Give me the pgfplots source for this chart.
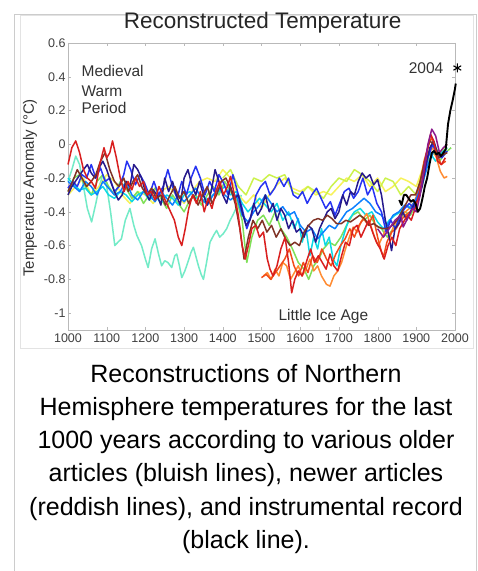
\documentclass[border=0pt]{standalone}
\usepackage{fontspec}
\setmainfont{Liberation Sans}
\usepackage{pgfplots}
\pgfplotsset{compat=1.18}
\definecolor{cNavy}{rgb}{0.15,0.1,0.55}
\definecolor{cBlue}{rgb}{0.15,0.2,0.95}
\definecolor{cMed}{rgb}{0.05,0.5,1}
\definecolor{cCyan}{rgb}{0.05,0.85,0.9}
\definecolor{cTurq}{rgb}{0.45,0.92,0.78}
\definecolor{cGreen}{rgb}{0.5,0.88,0.35}
\definecolor{cYellow}{rgb}{0.97,0.95,0.35}
\definecolor{cLime}{rgb}{0.8,0.95,0.3}
\definecolor{cOrange}{rgb}{1,0.55,0.2}
\definecolor{cRedOr}{rgb}{0.95,0.3,0.1}
\definecolor{cRed}{rgb}{0.85,0.12,0.12}
\definecolor{cBrown}{rgb}{0.5,0.2,0.15}
\definecolor{cPurple}{rgb}{0.55,0.1,0.55}
\begin{document}
\begin{tikzpicture}
\useasboundingbox (0pt,0pt) rectangle (478pt,571pt);
\fill[white] (0pt,0pt) rectangle (478pt,571pt);
\draw[gray!40,line width=0.8pt] (14pt,0pt)--(14pt,557pt)--(476pt,557pt)--(476pt,0pt);
\draw[gray!22,line width=0.7pt] (20pt,223pt) rectangle (473pt,556pt);
\begin{axis}[
  at={(68pt,241pt)}, anchor=south west,
  width=387pt, height=287pt, scale only axis,
  xmin=1000, xmax=2000, ymin=-1.1, ymax=0.6,
  xtick={1000,1100,...,2000},
  ytick={-1,-0.8,-0.6,-0.4,-0.2,0,0.2,0.4,0.6},
  /pgf/number format/1000 sep={},
  /pgf/number format/assume math mode=true,
  tick align=inside, major tick length=3pt,
  axis line style={gray!55}, tick style={gray!55},
  ticklabel style={font=\fontsize{12.5}{14}\selectfont, text=black!75},
  yticklabel style={xshift=1pt},
  title={Reconstructed Temperature},
  title style={at={(axis description cs:0.503,1)}, anchor=base, yshift=8pt, font=\fontsize{22.5}{26}\selectfont, text=black!85},
  ylabel={Temperature Anomaly (°C)},
  ylabel style={at={(axis description cs:-0.098,0.495)}, anchor=center, font=\fontsize{15}{18}\selectfont, text=black!80},
  clip=false,
  every axis plot/.append style={line width=1.5pt, line join=round, mark=none},
]
% turquoise
\addplot[cTurq] coordinates {(1000,-0.22)(1010,-0.15)(1020,-0.07)(1030,-0.12)(1040,-0.25)(1050,-0.38)(1061,-0.46)(1072,-0.35)(1082,-0.24)(1090,-0.18)(1100,-0.25)(1110,-0.4)(1121,-0.6)(1129,-0.58)(1138,-0.56)(1148,-0.45)(1160,-0.38)(1170,-0.48)(1178,-0.54)(1190,-0.6)(1200,-0.68)(1207,-0.73)(1216,-0.62)(1225,-0.56)(1234,-0.65)(1242,-0.72)(1250,-0.69)(1258,-0.7)(1268,-0.73)(1276,-0.66)(1281,-0.65)(1288,-0.72)(1294,-0.79)(1302,-0.75)(1311,-0.69)(1318,-0.64)(1324,-0.61)(1330,-0.66)(1337,-0.72)(1344,-0.77)(1350,-0.8)(1358,-0.7)(1367,-0.58)(1376,-0.54)(1384,-0.51)(1392,-0.55)(1401,-0.53)(1410,-0.5)(1419,-0.45)(1426,-0.42)(1432,-0.39)(1440,-0.35)(1448,-0.3)};
% yellow
\addplot[cYellow] coordinates {(1000,-0.3)(1020,-0.25)(1040,-0.2)(1060,-0.3)(1080,-0.25)(1100,-0.18)(1120,-0.22)(1140,-0.3)(1160,-0.35)(1180,-0.28)(1200,-0.3)(1220,-0.35)(1240,-0.28)(1260,-0.25)(1280,-0.3)(1300,-0.35)(1320,-0.28)(1340,-0.22)(1360,-0.2)(1380,-0.22)(1400,-0.15)(1420,-0.2)(1440,-0.3)(1460,-0.35)(1480,-0.3)(1500,-0.38)(1520,-0.3)(1540,-0.24)(1560,-0.2)(1580,-0.26)(1600,-0.28)(1620,-0.25)(1640,-0.3)(1660,-0.28)(1680,-0.3)(1700,-0.25)(1720,-0.2)(1740,-0.22)(1760,-0.18)(1780,-0.25)(1800,-0.2)(1820,-0.28)(1840,-0.25)(1860,-0.2)(1880,-0.22)(1900,-0.25)(1920,-0.12)(1940,-0.02)(1960,-0.05)(1980,-0.02)};
% lime
\addplot[cLime] coordinates {(1400,-0.2)(1420,-0.15)(1440,-0.25)(1460,-0.3)(1480,-0.2)(1500,-0.22)(1520,-0.18)(1540,-0.2)(1560,-0.18)(1580,-0.28)(1600,-0.3)(1620,-0.25)(1640,-0.28)(1660,-0.32)(1680,-0.25)(1700,-0.2)(1720,-0.22)(1740,-0.15)(1760,-0.18)(1780,-0.22)(1800,-0.28)(1820,-0.2)(1840,-0.22)(1860,-0.3)(1880,-0.25)(1900,-0.3)(1920,-0.12)(1940,0.0)(1960,-0.05)(1980,0.0)};
% green
\addplot[cGreen] coordinates {(1000,-0.28)(1015,-0.2)(1030,-0.18)(1045,-0.25)(1060,-0.3)(1075,-0.22)(1090,-0.18)(1105,-0.25)(1120,-0.3)(1135,-0.22)(1150,-0.26)(1165,-0.32)(1180,-0.28)(1195,-0.35)(1210,-0.3)(1225,-0.26)(1240,-0.32)(1255,-0.38)(1270,-0.3)(1285,-0.35)(1300,-0.4)(1315,-0.33)(1330,-0.3)(1345,-0.36)(1360,-0.3)(1375,-0.25)(1390,-0.3)(1405,-0.22)(1420,-0.28)(1435,-0.32)(1450,-0.45)(1462,-0.7)(1475,-0.55)(1490,-0.45)(1505,-0.42)(1520,-0.48)(1535,-0.4)(1550,-0.5)(1565,-0.55)(1580,-0.62)(1595,-0.7)(1610,-0.74)(1622,-0.8)(1635,-0.72)(1648,-0.68)(1660,-0.62)(1675,-0.58)(1690,-0.6)(1705,-0.55)(1720,-0.48)(1735,-0.42)(1750,-0.4)(1765,-0.45)(1780,-0.42)(1795,-0.48)(1810,-0.5)(1825,-0.55)(1840,-0.5)(1855,-0.46)(1870,-0.4)(1885,-0.42)(1900,-0.35)(1915,-0.25)(1930,-0.1)(1945,-0.05)(1960,-0.1)(1975,-0.05)(1990,-0.02)};
% cyan
\addplot[cCyan] coordinates {(1000,-0.2)(1015,-0.24)(1030,-0.27)(1045,-0.26)(1060,-0.3)(1075,-0.28)(1090,-0.25)(1105,-0.3)(1120,-0.32)(1135,-0.28)(1150,-0.3)(1165,-0.34)(1180,-0.3)(1195,-0.28)(1210,-0.33)(1225,-0.3)(1240,-0.35)(1255,-0.3)(1270,-0.32)(1285,-0.36)(1300,-0.3)(1315,-0.28)(1330,-0.32)(1345,-0.3)(1360,-0.33)(1375,-0.3)(1390,-0.28)(1405,-0.25)(1420,-0.3)(1435,-0.28)(1450,-0.35)(1465,-0.4)(1480,-0.36)(1495,-0.32)(1510,-0.36)(1525,-0.4)(1540,-0.35)(1555,-0.45)(1570,-0.4)(1585,-0.5)(1595,-0.44)(1605,-0.58)(1615,-0.5)(1625,-0.66)(1635,-0.55)(1645,-0.62)(1655,-0.5)(1665,-0.6)(1675,-0.55)(1685,-0.68)(1695,-0.72)(1705,-0.6)(1715,-0.52)(1725,-0.45)(1740,-0.4)(1755,-0.38)(1770,-0.42)(1785,-0.4)(1800,-0.46)(1815,-0.5)(1830,-0.45)(1845,-0.42)(1860,-0.4)(1875,-0.36)(1890,-0.38)(1905,-0.3)(1920,-0.15)(1935,-0.05)(1950,-0.1)(1965,-0.05)(1980,-0.02)};
% orange
\addplot[cOrange] coordinates {(1505,-0.78)(1515,-0.76)(1525,-0.8)(1535,-0.74)(1545,-0.78)(1555,-0.7)(1565,-0.72)(1575,-0.8)(1585,-0.76)(1595,-0.72)(1605,-0.78)(1615,-0.74)(1625,-0.68)(1635,-0.75)(1645,-0.72)(1655,-0.78)(1668,-0.83)(1677,-0.84)(1687,-0.78)(1697,-0.75)(1707,-0.7)(1717,-0.62)(1727,-0.55)(1737,-0.49)(1747,-0.52)(1757,-0.46)(1772,-0.41)(1782,-0.48)(1792,-0.55)(1802,-0.6)(1812,-0.55)(1822,-0.5)(1832,-0.55)(1842,-0.48)(1852,-0.45)(1862,-0.42)(1872,-0.4)(1882,-0.38)(1892,-0.35)(1902,-0.3)(1912,-0.2)(1922,-0.1)(1932,-0.05)(1942,-0.02)(1952,-0.08)(1962,-0.16)(1972,-0.2)(1980,-0.19)};
% red-orange
\addplot[cRedOr] coordinates {(1500,-0.79)(1512,-0.77)(1524,-0.8)(1536,-0.76)(1548,-0.72)(1560,-0.68)(1572,-0.62)(1584,-0.72)(1596,-0.78)(1608,-0.7)(1620,-0.76)(1632,-0.66)(1644,-0.7)(1656,-0.62)(1668,-0.68)(1680,-0.72)(1692,-0.65)(1704,-0.6)(1716,-0.56)(1728,-0.5)(1740,-0.55)(1752,-0.48)(1764,-0.44)(1776,-0.48)(1788,-0.42)(1800,-0.55)(1808,-0.62)(1815,-0.67)(1824,-0.58)(1836,-0.52)(1848,-0.5)(1860,-0.45)(1872,-0.42)(1884,-0.4)(1896,-0.36)(1908,-0.25)(1920,-0.1)(1932,0.0)(1940,0.04)(1952,-0.05)(1964,-0.12)(1976,-0.1)};
% medium blue
\addplot[cMed] coordinates {(1000,-0.22)(1015,-0.25)(1030,-0.28)(1045,-0.22)(1060,-0.25)(1075,-0.3)(1090,-0.22)(1105,-0.26)(1120,-0.3)(1135,-0.28)(1150,-0.22)(1165,-0.3)(1180,-0.33)(1195,-0.28)(1210,-0.3)(1225,-0.34)(1240,-0.28)(1255,-0.32)(1270,-0.36)(1285,-0.3)(1300,-0.34)(1315,-0.3)(1330,-0.26)(1345,-0.32)(1360,-0.36)(1375,-0.3)(1390,-0.26)(1405,-0.3)(1420,-0.33)(1435,-0.3)(1450,-0.42)(1465,-0.46)(1480,-0.4)(1495,-0.36)(1510,-0.3)(1525,-0.35)(1540,-0.4)(1555,-0.37)(1570,-0.42)(1585,-0.4)(1600,-0.48)(1615,-0.52)(1630,-0.5)(1645,-0.56)(1660,-0.52)(1675,-0.48)(1690,-0.5)(1705,-0.45)(1720,-0.4)(1735,-0.38)(1750,-0.35)(1765,-0.32)(1780,-0.35)(1795,-0.4)(1810,-0.42)(1825,-0.48)(1840,-0.42)(1855,-0.4)(1870,-0.36)(1885,-0.38)(1900,-0.32)(1915,-0.24)(1930,-0.12)(1945,-0.04)(1960,-0.08)(1975,-0.04)};
% blue
\addplot[cBlue] coordinates {(1000,-0.26)(1012,-0.22)(1024,-0.25)(1036,-0.18)(1048,-0.2)(1060,-0.12)(1072,-0.2)(1084,-0.14)(1096,-0.22)(1108,-0.2)(1120,-0.28)(1132,-0.25)(1144,-0.18)(1152,-0.1)(1162,-0.15)(1174,-0.24)(1186,-0.18)(1198,-0.23)(1210,-0.3)(1222,-0.22)(1234,-0.3)(1246,-0.25)(1258,-0.15)(1270,-0.25)(1282,-0.32)(1294,-0.22)(1306,-0.3)(1318,-0.2)(1330,-0.13)(1342,-0.2)(1354,-0.3)(1366,-0.22)(1378,-0.28)(1390,-0.18)(1402,-0.23)(1414,-0.3)(1426,-0.18)(1438,-0.28)(1450,-0.38)(1462,-0.5)(1474,-0.42)(1486,-0.3)(1498,-0.25)(1510,-0.22)(1522,-0.3)(1534,-0.26)(1546,-0.2)(1558,-0.25)(1570,-0.2)(1582,-0.3)(1594,-0.32)(1606,-0.28)(1618,-0.35)(1630,-0.3)(1642,-0.26)(1654,-0.32)(1666,-0.38)(1678,-0.34)(1690,-0.42)(1702,-0.35)(1714,-0.28)(1726,-0.26)(1738,-0.32)(1750,-0.28)(1762,-0.2)(1774,-0.3)(1786,-0.25)(1798,-0.35)(1810,-0.4)(1822,-0.52)(1834,-0.45)(1846,-0.5)(1858,-0.42)(1870,-0.38)(1882,-0.35)(1894,-0.38)(1906,-0.3)(1918,-0.2)(1930,-0.08)(1942,0.0)(1954,-0.06)(1966,-0.08)(1980,-0.04)};
% navy
\addplot[cNavy] coordinates {(1000,-0.3)(1010,-0.25)(1025,-0.2)(1040,-0.15)(1050,-0.12)(1060,-0.17)(1070,-0.2)(1080,-0.14)(1090,-0.1)(1100,-0.15)(1110,-0.22)(1120,-0.28)(1130,-0.33)(1140,-0.3)(1150,-0.22)(1160,-0.25)(1170,-0.12)(1180,-0.15)(1190,-0.2)(1200,-0.28)(1210,-0.33)(1220,-0.27)(1230,-0.3)(1240,-0.36)(1250,-0.2)(1260,-0.28)(1270,-0.22)(1280,-0.3)(1290,-0.36)(1300,-0.2)(1310,-0.15)(1320,-0.24)(1330,-0.3)(1340,-0.22)(1350,-0.3)(1360,-0.36)(1370,-0.28)(1380,-0.15)(1390,-0.22)(1400,-0.3)(1410,-0.35)(1420,-0.25)(1430,-0.32)(1440,-0.3)(1450,-0.4)(1460,-0.48)(1470,-0.45)(1480,-0.35)(1490,-0.42)(1500,-0.38)(1510,-0.3)(1520,-0.4)(1530,-0.35)(1540,-0.45)(1550,-0.38)(1560,-0.42)(1570,-0.5)(1580,-0.45)(1590,-0.52)(1600,-0.5)(1610,-0.55)(1620,-0.48)(1630,-0.5)(1640,-0.58)(1650,-0.5)(1660,-0.45)(1670,-0.4)(1680,-0.38)(1690,-0.44)(1700,-0.4)(1710,-0.3)(1720,-0.36)(1730,-0.28)(1740,-0.3)(1750,-0.22)(1760,-0.17)(1770,-0.2)(1780,-0.18)(1790,-0.24)(1800,-0.21)(1810,-0.3)(1820,-0.45)(1830,-0.55)(1836,-0.63)(1845,-0.5)(1855,-0.47)(1865,-0.4)(1875,-0.45)(1885,-0.4)(1895,-0.35)(1905,-0.33)(1915,-0.25)(1925,-0.12)(1935,-0.02)(1945,0.02)(1955,-0.05)(1965,-0.07)(1975,-0.05)};
% brown
\addplot[cBrown] coordinates {(1000,-0.28)(1012,-0.22)(1024,-0.15)(1036,-0.2)(1048,-0.25)(1060,-0.22)(1072,-0.18)(1084,-0.1)(1096,-0.05)(1108,-0.15)(1120,-0.22)(1132,-0.25)(1144,-0.2)(1156,-0.28)(1168,-0.22)(1180,-0.18)(1192,-0.26)(1204,-0.3)(1216,-0.26)(1228,-0.32)(1240,-0.3)(1252,-0.36)(1264,-0.3)(1276,-0.25)(1288,-0.32)(1300,-0.28)(1312,-0.35)(1324,-0.3)(1336,-0.36)(1348,-0.3)(1360,-0.25)(1372,-0.35)(1384,-0.3)(1396,-0.22)(1408,-0.2)(1420,-0.26)(1432,-0.35)(1444,-0.5)(1455,-0.68)(1466,-0.55)(1478,-0.45)(1490,-0.5)(1502,-0.45)(1514,-0.52)(1526,-0.48)(1538,-0.55)(1550,-0.5)(1562,-0.56)(1574,-0.6)(1586,-0.58)(1598,-0.6)(1610,-0.52)(1622,-0.48)(1634,-0.45)(1646,-0.44)(1658,-0.45)(1670,-0.42)(1682,-0.44)(1694,-0.47)(1706,-0.47)(1718,-0.45)(1730,-0.46)(1742,-0.44)(1754,-0.42)(1766,-0.44)(1778,-0.48)(1790,-0.47)(1802,-0.49)(1814,-0.5)(1826,-0.5)(1838,-0.48)(1850,-0.45)(1862,-0.4)(1874,-0.35)(1886,-0.3)(1898,-0.3)(1910,-0.22)(1922,-0.1)(1934,0.02)(1946,0.0)(1958,-0.08)(1970,-0.06)(1980,-0.05)};
% red
\addplot[cRed] coordinates {(1000,-0.12)(1010,-0.02)(1020,0.02)(1030,-0.05)(1040,-0.15)(1050,-0.2)(1060,-0.22)(1071,-0.26)(1082,-0.12)(1093,-0.02)(1100,-0.08)(1108,-0.05)(1115,0.02)(1125,-0.08)(1135,-0.2)(1145,-0.28)(1155,-0.22)(1165,-0.27)(1175,-0.2)(1185,-0.25)(1195,-0.22)(1205,-0.3)(1215,-0.28)(1225,-0.33)(1235,-0.25)(1245,-0.3)(1255,-0.35)(1265,-0.4)(1275,-0.45)(1285,-0.55)(1294,-0.6)(1303,-0.5)(1312,-0.38)(1322,-0.3)(1332,-0.35)(1342,-0.28)(1352,-0.4)(1362,-0.32)(1372,-0.38)(1382,-0.28)(1392,-0.22)(1402,-0.3)(1412,-0.25)(1420,-0.19)(1430,-0.3)(1440,-0.42)(1450,-0.6)(1458,-0.68)(1466,-0.6)(1475,-0.5)(1485,-0.48)(1495,-0.55)(1505,-0.52)(1515,-0.68)(1522,-0.74)(1530,-0.78)(1540,-0.72)(1550,-0.62)(1561,-0.55)(1570,-0.7)(1578,-0.88)(1586,-0.8)(1595,-0.75)(1605,-0.78)(1617,-0.69)(1627,-0.62)(1637,-0.7)(1647,-0.66)(1657,-0.7)(1667,-0.74)(1677,-0.65)(1687,-0.72)(1697,-0.75)(1707,-0.66)(1717,-0.58)(1727,-0.6)(1737,-0.5)(1747,-0.48)(1757,-0.55)(1767,-0.5)(1777,-0.45)(1787,-0.52)(1797,-0.58)(1807,-0.62)(1817,-0.68)(1827,-0.6)(1837,-0.55)(1847,-0.6)(1857,-0.5)(1867,-0.46)(1877,-0.42)(1887,-0.45)(1897,-0.38)(1907,-0.3)(1917,-0.2)(1927,-0.05)(1937,0.06)(1945,0.02)(1955,-0.1)(1965,-0.12)(1975,-0.08)};
% purple
\addplot[cPurple] coordinates {(1800,-0.5)(1815,-0.55)(1830,-0.5)(1845,-0.45)(1860,-0.42)(1866,-0.49)(1875,-0.45)(1890,-0.38)(1900,-0.4)(1910,-0.3)(1920,-0.15)(1930,0.0)(1940,0.09)(1950,0.05)(1960,-0.05)(1970,-0.02)(1980,0.0)};
% instrumental
\addplot[black, line width=1.9pt] coordinates {(1856,-0.33)(1862,-0.36)(1868,-0.3)(1874,-0.3)(1880,-0.32)(1886,-0.34)(1892,-0.33)(1898,-0.35)(1904,-0.4)(1910,-0.38)(1916,-0.32)(1922,-0.25)(1928,-0.2)(1934,-0.12)(1940,-0.05)(1946,-0.04)(1952,-0.06)(1958,-0.05)(1964,-0.07)(1970,-0.05)(1976,-0.03)(1982,0.12)(1988,0.2)(1994,0.26)(2000,0.33)(2002,0.36)};
\addplot[only marks, mark=asterisk, mark size=4.5pt, black, line width=1.1pt] coordinates {(2006,0.452)};
\node[anchor=base east, font=\fontsize{15.5}{18}\selectfont, text=black!80] at (axis cs:1979,0.422) {2004};
\node[anchor=base west, font=\fontsize{15.5}{18}\selectfont, text=black!80] at (axis cs:1026,0.399) {Medieval};
\node[anchor=base west, font=\fontsize{15.5}{18}\selectfont, text=black!80] at (axis cs:1026,0.286) {Warm};
\node[anchor=base west, font=\fontsize{15.5}{18}\selectfont, text=black!80] at (axis cs:1026,0.185) {Period};
\node[anchor=base west, font=\fontsize{15.5}{18}\selectfont, text=black!80] at (axis cs:1535,-1.041) {Little Ice Age};
\end{axis}
\begin{scope}[every node/.style={anchor=base, font=\fontsize{25}{33}\selectfont, text=black}]
\node at (246pt,188pt) {Reconstructions of Northern};
\node at (246pt,155pt) {Hemisphere temperatures for the last};
\node at (246pt,122pt) {1000 years according to various older};
\node at (246pt,89pt) {articles (bluish lines), newer articles};
\node at (246pt,56pt) {(reddish lines), and instrumental record};
\node at (246pt,23pt) {(black line).};
\end{scope}
\end{tikzpicture}
\end{document}
